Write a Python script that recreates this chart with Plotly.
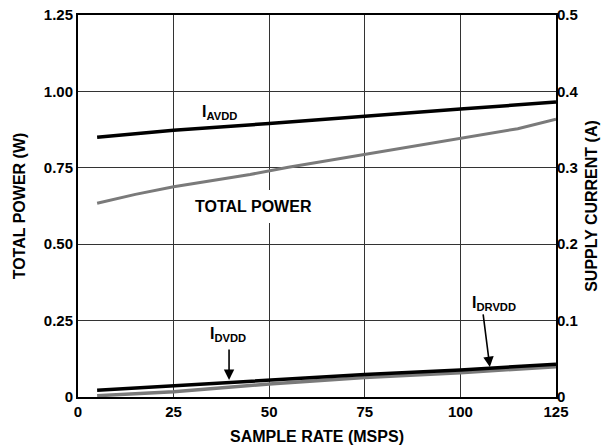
import plotly.graph_objects as go

# sample rate (MSPS)
rate_total = [5, 15, 25, 35, 45, 55, 65, 75, 85, 95, 105, 115, 125]
total_power = [0.634, 0.663, 0.688, 0.708, 0.728, 0.752, 0.773, 0.794, 0.816, 0.836, 0.856, 0.878, 0.909]

rate = [5, 25, 50, 75, 100, 125]
i_avdd = [0.340, 0.349, 0.358, 0.368, 0.377, 0.386]
i_dvdd = [0.0088, 0.0148, 0.0213, 0.0295, 0.0355, 0.0428]
i_drvdd = [0.0017, 0.0069, 0.0170, 0.0255, 0.0318, 0.0397]

x_ticks = [0, 25, 50, 75, 100, 125]
left_ticks = [0, 0.25, 0.5, 0.75, 1.0, 1.25]
left_labels = ["0", "0.25", "0.50", "0.75", "1.00", "1.25"]
right_ticks = [0, 0.1, 0.2, 0.3, 0.4, 0.5]
right_labels = ["0", "0.1", "0.2", "0.3", "0.4", "0.5"]

FONT = "Liberation Sans, Arial, sans-serif"
GRAY = "#7a7a7a"

fig = go.Figure()

fig.add_trace(go.Scatter(x=rate_total, y=total_power, mode="lines",
                         line=dict(color=GRAY, width=3), yaxis="y"))
fig.add_trace(go.Scatter(x=rate, y=i_avdd, mode="lines",
                         line=dict(color="black", width=3.5), yaxis="y2"))
fig.add_trace(go.Scatter(x=rate, y=i_drvdd, mode="lines",
                         line=dict(color=GRAY, width=3.5), yaxis="y2"))
fig.add_trace(go.Scatter(x=rate, y=i_dvdd, mode="lines",
                         line=dict(color="black", width=3.5), yaxis="y2"))

label_font = dict(family=FONT, size=16, color="black", weight="bold")

fig.add_annotation(x=36.9, y=0.93, xref="x", yref="y", text="I<sub>AVDD</sub>",
                   showarrow=False, font=label_font)
fig.add_annotation(x=45.8, y=0.625, xref="x", yref="y", text="TOTAL POWER",
                   showarrow=False, font=label_font,
                   bgcolor="white", borderpad=8, borderwidth=0)
fig.add_annotation(x=39.2, y=0.203, xref="x", yref="y", text="I<sub>DVDD</sub>",
                   showarrow=False, font=label_font)
fig.add_annotation(x=108.8, y=0.306, xref="x", yref="y", text="I<sub>DRVDD</sub>",
                   showarrow=False, font=label_font)

# arrows
fig.add_annotation(x=39.5, y=0.056, ax=39.5, ay=0.160, xref="x", yref="y",
                   axref="x", ayref="y", text="", showarrow=True,
                   arrowhead=2, arrowsize=1.3, arrowwidth=1.6, arrowcolor="black")
fig.add_annotation(x=107.7, y=0.098, ax=105.9, ay=0.275, xref="x", yref="y",
                   axref="x", ayref="y", text="", showarrow=True,
                   arrowhead=2, arrowsize=1.3, arrowwidth=1.6, arrowcolor="black")

tick_font = dict(family=FONT, size=15, color="black", weight="bold")
title_font = dict(family=FONT, size=16, color="black", weight="bold")

fig.update_layout(
    width=609,
    height=447,
    margin=dict(l=78, r=53, t=15, b=50),
    paper_bgcolor="white",
    plot_bgcolor="white",
    showlegend=False,
    xaxis=dict(
        range=[0, 125], tickvals=x_ticks, ticktext=[str(v) for v in x_ticks],
        showgrid=True, gridcolor="#333333", gridwidth=1,
        showline=True, linecolor="black", linewidth=2, mirror=True,
        ticks="", tickfont=tick_font, zeroline=False, automargin=False,
        ticklabeloverflow="allow",
        title=dict(text="SAMPLE RATE (MSPS)", font=title_font, standoff=12),
    ),
    yaxis=dict(
        range=[0, 1.25], tickvals=left_ticks, ticktext=left_labels,
        showgrid=True, gridcolor="#333333", gridwidth=1,
        showline=True, linecolor="black", linewidth=2, mirror=True,
        ticks="", tickfont=tick_font, zeroline=False, automargin=False,
        ticklabeloverflow="allow",
        title=dict(text="TOTAL POWER (W)", font=title_font, standoff=14),
    ),
    yaxis2=dict(
        range=[0, 0.5], tickvals=right_ticks, ticktext=right_labels,
        overlaying="y", side="right", showgrid=False,
        showline=False, ticks="", tickfont=tick_font, zeroline=False, automargin=False,
        ticklabeloverflow="allow",
        title=dict(text="SUPPLY CURRENT (A)", font=title_font, standoff=8),
    ),
)

# drop the default 8px body margin so the figure fills the window exactly
fig.write_html(
    "out.html",
    config={"displayModeBar": False},
    post_script="document.body.style.margin = '0';",
)
